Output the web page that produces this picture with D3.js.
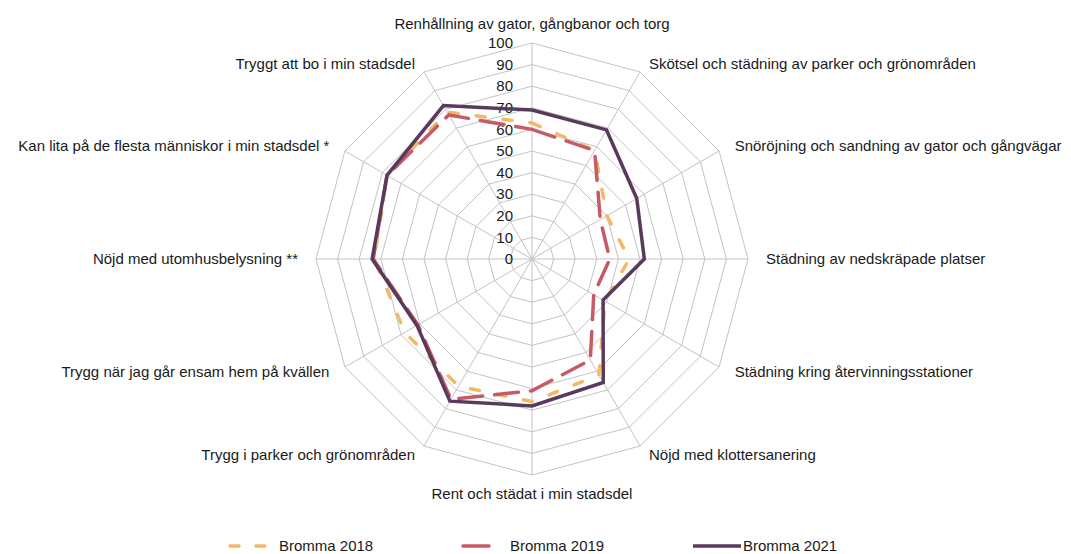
<!DOCTYPE html>
<meta charset="utf-8">
<style>
body {
  margin: 0;
  background: #fff;
}
svg text {
  font-family: "Liberation Sans", Arial, sans-serif;
  font-size: 15px;
  fill: #1a1a1a;
}
.grid {
  fill: none;
  stroke: #c3c3c3;
  stroke-width: 1px;
}
.series {
  fill: none;
  stroke-linejoin: miter;
}
</style>
<body>
<svg width="1071" height="554"></svg>
<script src="https://d3js.org/d3.v7.min.js"></script>
<script>
// axes, clockwise from the top
var categories = [
  "Renhållning av gator, gångbanor och torg",
  "Skötsel och städning av parker och grönområden",
  "Snöröjning och sandning av gator och gångvägar",
  "Städning av nedskräpade platser",
  "Städning kring återvinningsstationer",
  "Nöjd med klottersanering",
  "Rent och städat i min stadsdel",
  "Trygg i parker och grönområden",
  "Trygg när jag går ensam hem på kvällen",
  "Nöjd med utomhusbelysning **",
  "Kan lita på de flesta människor i min stadsdel *",
  "Tryggt att bo i min stadsdel"
];

var bromma2018 = [63, 58, 40, 45, 39, 62, 66, 68, 68, 73, 77.5, 78.5];
var bromma2019 = [60, 58, 36.5, 36, 33, 54, 61, 75, 61, 73.5, 77.5, 77];
var bromma2021 = [69, 69, 56, 52, 38, 66, 68, 76, 61.5, 74, 77.5, 82];

var seriesNames = ["Bromma 2018", "Bromma 2019", "Bromma 2021"];
var ticks = [0, 10, 20, 30, 40, 50, 60, 70, 80, 90, 100];

var series = [
  {name: seriesNames[0], values: bromma2018, color: "#f2ba68", width: 3.5, dash: "9,18"},
  {name: seriesNames[1], values: bromma2019, color: "#c65a66", width: 3.5, dash: "24,12"},
  {name: seriesNames[2], values: bromma2021, color: "#5a3a5c", width: 3.5, dash: null}
];

var svg = d3.select("svg"),
    cx = 532, cy = 259, R = 216;

var r = d3.scaleLinear().domain([0, 100]).range([0, R]);
var angle = d3.scaleLinear().domain([0, categories.length]).range([0, 2 * Math.PI]);

function pt(i, v) {
  var a = angle(i);
  return [cx + r(v) * Math.sin(a), cy - r(v) * Math.cos(a)];
}

var g = svg.append("g");

// rings
ticks.slice(1).forEach(function(t) {
  g.append("path")
      .attr("class", "grid")
      .attr("d", d3.line()(categories.map(function(c, i) { return pt(i, t); })) + "Z");
});

// spokes
g.selectAll(".spoke")
  .data(categories)
  .enter().append("line")
    .attr("class", "grid")
    .attr("x1", cx).attr("y1", cy)
    .attr("x2", function(d, i) { return pt(i, 100)[0]; })
    .attr("y2", function(d, i) { return pt(i, 100)[1]; });

// tick labels along the top spoke
g.selectAll(".tick")
  .data(ticks)
  .enter().append("text")
    .attr("x", cx - 19)
    .attr("y", function(d) { return cy - r(d); })
    .attr("dy", "0.35em")
    .attr("text-anchor", "end")
    .text(function(d) { return d; });

// category labels
g.selectAll(".cat")
  .data(categories)
  .enter().append("text")
    .attr("x", function(d, i) { return cx + (R + 18) * Math.sin(angle(i)); })
    .attr("y", function(d, i) {
      var c = Math.cos(angle(i));
      var off = Math.abs(c) > 0.99 ? 19 : 10;
      return cy - (R + off) * c;
    })
    .attr("dy", "0.35em")
    .attr("text-anchor", function(d, i) {
      var s = Math.sin(angle(i));
      return Math.abs(s) < 0.01 ? "middle" : (s > 0 ? "start" : "end");
    })
    .text(function(d) { return d; });

// series
var line = d3.line();
series.forEach(function(s) {
  g.append("path")
      .attr("class", "series")
      .attr("d", line(s.values.map(function(v, i) { return pt(i, v); })) + "Z")
      .attr("stroke", s.color)
      .attr("stroke-width", s.width)
      .attr("stroke-dasharray", s.dash)
      .attr("stroke-linecap", s.dash ? "round" : "butt");
});

// legend
var legendX = [[230, 268, 279], [463, 489, 510], [693, 741, 743]],
    legendY = 546;
var legend = svg.append("g");
series.forEach(function(s, i) {
  var lx = legendX[i];
  legend.append("line")
      .attr("x1", lx[0]).attr("x2", lx[1])
      .attr("y1", legendY).attr("y2", legendY)
      .attr("stroke", s.color)
      .attr("stroke-width", s.width)
      .attr("stroke-dasharray", i === 0 ? "9,17" : null)
      .attr("stroke-linecap", i === 2 ? "butt" : "round");
  legend.append("text")
      .attr("x", lx[2])
      .attr("y", legendY)
      .attr("dy", "0.35em")
      .text(s.name);
});
</script>
</body>
